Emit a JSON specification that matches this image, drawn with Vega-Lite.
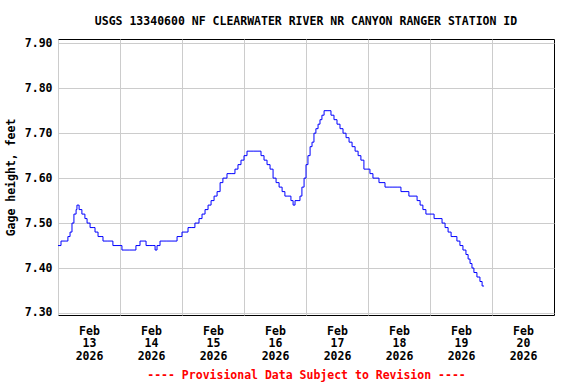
{
  "$schema": "https://vega.github.io/schema/vega-lite/v6.json",
  "autosize": "none",
  "width": 496,
  "height": 276,
  "padding": {"left": 58, "top": 39, "right": 22, "bottom": 69},
  "background": "white",
  "config": {
    "view": {"stroke": "black", "strokeWidth": 1},
    "font": "DejaVu Sans Mono"
  },
  "title": {
    "text": "USGS 13340600 NF CLEARWATER RIVER NR CANYON RANGER STATION ID",
    "font": "DejaVu Sans Mono",
    "fontSize": 11.5,
    "fontWeight": "bold",
    "color": "black",
    "anchor": "middle",
    "offset": 10
  },
  "data": {
    "values": [
      {"t": "2026-02-13T00:00:00Z", "v": 7.45},
      {"t": "2026-02-13T01:10:00Z", "v": 7.46},
      {"t": "2026-02-13T02:45:00Z", "v": 7.46},
      {"t": "2026-02-13T03:50:00Z", "v": 7.47},
      {"t": "2026-02-13T04:40:00Z", "v": 7.48},
      {"t": "2026-02-13T05:25:00Z", "v": 7.50},
      {"t": "2026-02-13T06:10:00Z", "v": 7.52},
      {"t": "2026-02-13T07:00:00Z", "v": 7.53},
      {"t": "2026-02-13T07:20:00Z", "v": 7.54},
      {"t": "2026-02-13T08:10:00Z", "v": 7.53},
      {"t": "2026-02-13T09:15:00Z", "v": 7.52},
      {"t": "2026-02-13T10:25:00Z", "v": 7.51},
      {"t": "2026-02-13T11:15:00Z", "v": 7.50},
      {"t": "2026-02-13T12:25:00Z", "v": 7.49},
      {"t": "2026-02-13T13:35:00Z", "v": 7.49},
      {"t": "2026-02-13T14:20:00Z", "v": 7.48},
      {"t": "2026-02-13T15:30:00Z", "v": 7.47},
      {"t": "2026-02-13T16:40:00Z", "v": 7.47},
      {"t": "2026-02-13T17:25:00Z", "v": 7.46},
      {"t": "2026-02-13T19:00:00Z", "v": 7.46},
      {"t": "2026-02-13T20:30:00Z", "v": 7.46},
      {"t": "2026-02-13T21:15:00Z", "v": 7.45},
      {"t": "2026-02-13T22:50:00Z", "v": 7.45},
      {"t": "2026-02-14T00:00:00Z", "v": 7.45},
      {"t": "2026-02-14T00:45:00Z", "v": 7.44},
      {"t": "2026-02-14T01:55:00Z", "v": 7.44},
      {"t": "2026-02-14T03:50:00Z", "v": 7.44},
      {"t": "2026-02-14T05:25:00Z", "v": 7.44},
      {"t": "2026-02-14T06:10:00Z", "v": 7.45},
      {"t": "2026-02-14T07:45:00Z", "v": 7.46},
      {"t": "2026-02-14T08:55:00Z", "v": 7.46},
      {"t": "2026-02-14T10:05:00Z", "v": 7.45},
      {"t": "2026-02-14T11:35:00Z", "v": 7.45},
      {"t": "2026-02-14T12:45:00Z", "v": 7.45},
      {"t": "2026-02-14T13:35:00Z", "v": 7.44},
      {"t": "2026-02-14T14:20:00Z", "v": 7.45},
      {"t": "2026-02-14T15:30:00Z", "v": 7.46},
      {"t": "2026-02-14T16:40:00Z", "v": 7.46},
      {"t": "2026-02-14T18:10:00Z", "v": 7.46},
      {"t": "2026-02-14T19:45:00Z", "v": 7.46},
      {"t": "2026-02-14T20:55:00Z", "v": 7.46},
      {"t": "2026-02-14T22:05:00Z", "v": 7.47},
      {"t": "2026-02-14T23:15:00Z", "v": 7.47},
      {"t": "2026-02-15T00:00:00Z", "v": 7.48},
      {"t": "2026-02-15T01:10:00Z", "v": 7.48},
      {"t": "2026-02-15T02:20:00Z", "v": 7.49},
      {"t": "2026-02-15T03:50:00Z", "v": 7.49},
      {"t": "2026-02-15T05:00:00Z", "v": 7.50},
      {"t": "2026-02-15T06:35:00Z", "v": 7.51},
      {"t": "2026-02-15T07:45:00Z", "v": 7.52},
      {"t": "2026-02-15T08:55:00Z", "v": 7.53},
      {"t": "2026-02-15T10:05:00Z", "v": 7.54},
      {"t": "2026-02-15T11:15:00Z", "v": 7.55},
      {"t": "2026-02-15T12:25:00Z", "v": 7.56},
      {"t": "2026-02-15T13:35:00Z", "v": 7.57},
      {"t": "2026-02-15T14:45:00Z", "v": 7.59},
      {"t": "2026-02-15T15:50:00Z", "v": 7.60},
      {"t": "2026-02-15T17:25:00Z", "v": 7.61},
      {"t": "2026-02-15T19:00:00Z", "v": 7.61},
      {"t": "2026-02-15T20:30:00Z", "v": 7.62},
      {"t": "2026-02-15T21:40:00Z", "v": 7.63},
      {"t": "2026-02-15T22:50:00Z", "v": 7.64},
      {"t": "2026-02-16T00:00:00Z", "v": 7.65},
      {"t": "2026-02-16T01:10:00Z", "v": 7.66},
      {"t": "2026-02-16T02:20:00Z", "v": 7.66},
      {"t": "2026-02-16T03:50:00Z", "v": 7.66},
      {"t": "2026-02-16T05:25:00Z", "v": 7.66},
      {"t": "2026-02-16T06:35:00Z", "v": 7.65},
      {"t": "2026-02-16T07:45:00Z", "v": 7.64},
      {"t": "2026-02-16T08:55:00Z", "v": 7.63},
      {"t": "2026-02-16T10:05:00Z", "v": 7.62},
      {"t": "2026-02-16T11:15:00Z", "v": 7.60},
      {"t": "2026-02-16T12:25:00Z", "v": 7.59},
      {"t": "2026-02-16T13:35:00Z", "v": 7.58},
      {"t": "2026-02-16T14:45:00Z", "v": 7.57},
      {"t": "2026-02-16T15:50:00Z", "v": 7.56},
      {"t": "2026-02-16T17:00:00Z", "v": 7.56},
      {"t": "2026-02-16T18:10:00Z", "v": 7.55},
      {"t": "2026-02-16T19:00:00Z", "v": 7.54},
      {"t": "2026-02-16T19:45:00Z", "v": 7.55},
      {"t": "2026-02-16T20:55:00Z", "v": 7.55},
      {"t": "2026-02-16T21:40:00Z", "v": 7.56},
      {"t": "2026-02-16T22:25:00Z", "v": 7.58},
      {"t": "2026-02-16T23:15:00Z", "v": 7.60},
      {"t": "2026-02-17T00:00:00Z", "v": 7.63},
      {"t": "2026-02-17T00:45:00Z", "v": 7.65},
      {"t": "2026-02-17T01:35:00Z", "v": 7.67},
      {"t": "2026-02-17T02:20:00Z", "v": 7.68},
      {"t": "2026-02-17T03:05:00Z", "v": 7.70},
      {"t": "2026-02-17T03:50:00Z", "v": 7.71},
      {"t": "2026-02-17T04:40:00Z", "v": 7.72},
      {"t": "2026-02-17T05:25:00Z", "v": 7.73},
      {"t": "2026-02-17T06:10:00Z", "v": 7.74},
      {"t": "2026-02-17T07:00:00Z", "v": 7.75},
      {"t": "2026-02-17T08:30:00Z", "v": 7.75},
      {"t": "2026-02-17T09:40:00Z", "v": 7.74},
      {"t": "2026-02-17T10:50:00Z", "v": 7.73},
      {"t": "2026-02-17T12:00:00Z", "v": 7.72},
      {"t": "2026-02-17T13:10:00Z", "v": 7.71},
      {"t": "2026-02-17T14:20:00Z", "v": 7.70},
      {"t": "2026-02-17T15:30:00Z", "v": 7.69},
      {"t": "2026-02-17T16:40:00Z", "v": 7.68},
      {"t": "2026-02-17T17:50:00Z", "v": 7.67},
      {"t": "2026-02-17T19:00:00Z", "v": 7.66},
      {"t": "2026-02-17T20:10:00Z", "v": 7.65},
      {"t": "2026-02-17T21:15:00Z", "v": 7.64},
      {"t": "2026-02-17T22:25:00Z", "v": 7.62},
      {"t": "2026-02-17T23:35:00Z", "v": 7.62},
      {"t": "2026-02-18T00:45:00Z", "v": 7.61},
      {"t": "2026-02-18T01:55:00Z", "v": 7.60},
      {"t": "2026-02-18T03:05:00Z", "v": 7.60},
      {"t": "2026-02-18T04:15:00Z", "v": 7.59},
      {"t": "2026-02-18T05:25:00Z", "v": 7.59},
      {"t": "2026-02-18T06:35:00Z", "v": 7.58},
      {"t": "2026-02-18T08:10:00Z", "v": 7.58},
      {"t": "2026-02-18T09:40:00Z", "v": 7.58},
      {"t": "2026-02-18T11:15:00Z", "v": 7.58},
      {"t": "2026-02-18T12:45:00Z", "v": 7.57},
      {"t": "2026-02-18T14:20:00Z", "v": 7.57},
      {"t": "2026-02-18T15:50:00Z", "v": 7.56},
      {"t": "2026-02-18T17:25:00Z", "v": 7.56},
      {"t": "2026-02-18T19:00:00Z", "v": 7.55},
      {"t": "2026-02-18T20:10:00Z", "v": 7.54},
      {"t": "2026-02-18T21:15:00Z", "v": 7.53},
      {"t": "2026-02-18T22:25:00Z", "v": 7.52},
      {"t": "2026-02-19T00:00:00Z", "v": 7.52},
      {"t": "2026-02-19T01:35:00Z", "v": 7.51},
      {"t": "2026-02-19T03:05:00Z", "v": 7.51},
      {"t": "2026-02-19T04:40:00Z", "v": 7.50},
      {"t": "2026-02-19T05:50:00Z", "v": 7.49},
      {"t": "2026-02-19T07:00:00Z", "v": 7.48},
      {"t": "2026-02-19T08:10:00Z", "v": 7.47},
      {"t": "2026-02-19T09:15:00Z", "v": 7.47},
      {"t": "2026-02-19T10:25:00Z", "v": 7.46},
      {"t": "2026-02-19T11:35:00Z", "v": 7.45},
      {"t": "2026-02-19T12:45:00Z", "v": 7.44},
      {"t": "2026-02-19T13:55:00Z", "v": 7.43},
      {"t": "2026-02-19T14:45:00Z", "v": 7.42},
      {"t": "2026-02-19T15:30:00Z", "v": 7.41},
      {"t": "2026-02-19T16:15:00Z", "v": 7.40},
      {"t": "2026-02-19T17:00:00Z", "v": 7.39},
      {"t": "2026-02-19T18:10:00Z", "v": 7.38},
      {"t": "2026-02-19T19:20:00Z", "v": 7.37},
      {"t": "2026-02-19T20:10:00Z", "v": 7.36},
      {"t": "2026-02-19T20:55:00Z", "v": 7.36}
    ]
  },
  "mark": {"type": "line", "color": "#0000ff", "strokeWidth": 1, "interpolate": "step-after", "clip": true},
  "encoding": {
    "x": {
      "field": "t",
      "type": "temporal",
      "scale": {"type": "utc", "domain": ["2026-02-13T00:00:00Z", "2026-02-21T00:00:00Z"], "nice": false},
      "axis": {
        "values": ["2026-02-13T00:00:00Z", "2026-02-14T00:00:00Z", "2026-02-15T00:00:00Z", "2026-02-16T00:00:00Z", "2026-02-17T00:00:00Z", "2026-02-18T00:00:00Z", "2026-02-19T00:00:00Z", "2026-02-20T00:00:00Z"],
        "labelExpr": "[utcFormat(datum.value, '%b'), utcFormat(datum.value, '%d'), utcFormat(datum.value, '%Y')]",
        "labelOffset": 31,
        "labelAlign": "center",
        "labelBaseline": "top",
        "labelFont": "DejaVu Sans Mono",
        "labelFontSize": 11.5,
        "labelFontWeight": "bold",
        "labelColor": "black",
        "labelLineHeight": 12.7,
        "labelPadding": 10,
        "labelOverlap": false,
        "labelFlush": false,
        "grid": true,
        "gridColor": "#cccccc",
        "gridWidth": 1,
        "ticks": false,
        "domain": false,
        "title": "---- Provisional Data Subject to Revision ----",
        "titleColor": "#ff0000",
        "titleFont": "DejaVu Sans Mono",
        "titleFontSize": 11.5,
        "titleFontWeight": "bold",
        "titlePadding": 8
      }
    },
    "y": {
      "field": "v",
      "type": "quantitative",
      "scale": {"domain": [7.2955, 7.9095], "nice": false, "zero": false},
      "axis": {
        "values": [7.3, 7.4, 7.5, 7.6, 7.7, 7.8, 7.9],
        "format": ".2f",
        "labelFont": "DejaVu Sans Mono",
        "labelFontSize": 11.5,
        "labelFontWeight": "bold",
        "labelColor": "black",
        "labelPadding": 6,
        "grid": true,
        "gridColor": "#cccccc",
        "gridWidth": 1,
        "ticks": false,
        "domain": false,
        "title": "Gage height, feet",
        "titleFont": "DejaVu Sans Mono",
        "titleFontSize": 11.5,
        "titleFontWeight": "bold",
        "titleColor": "black",
        "titlePadding": 8
      }
    }
  }
}
